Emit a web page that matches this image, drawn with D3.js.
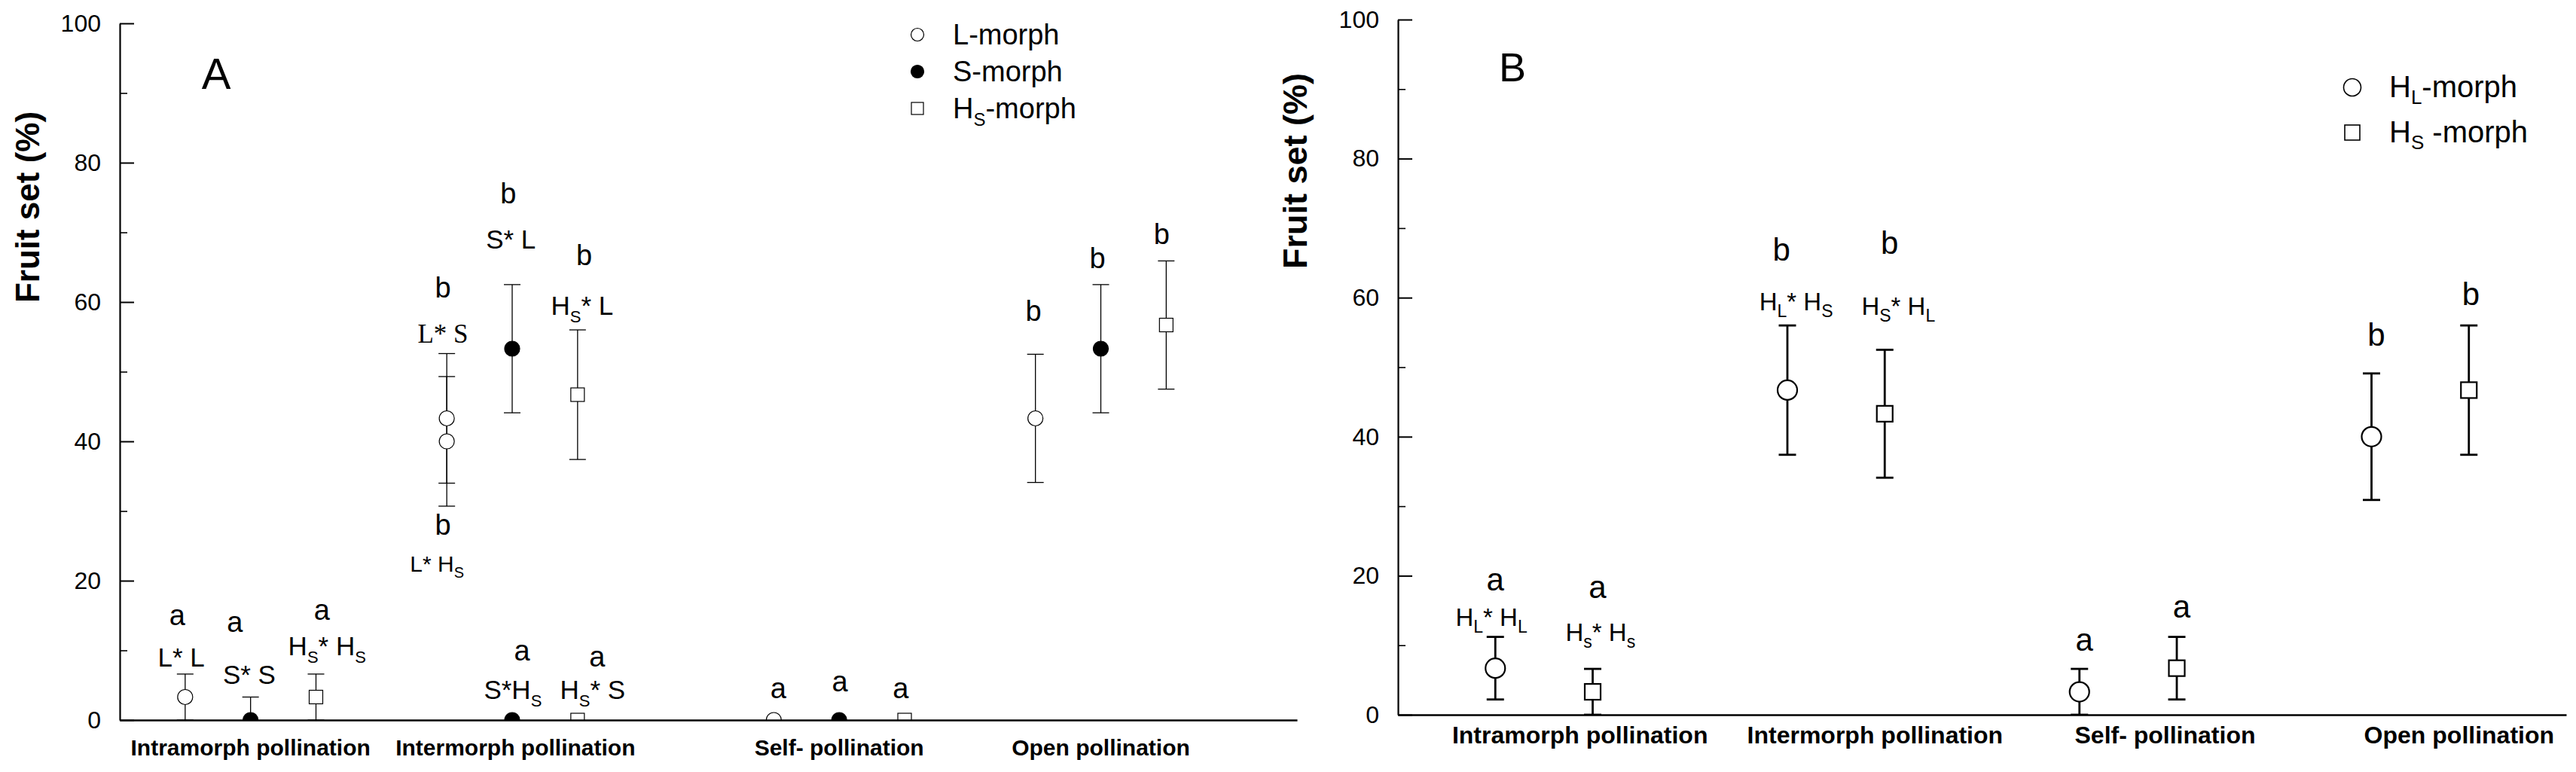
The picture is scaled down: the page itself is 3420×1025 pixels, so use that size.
<!DOCTYPE html>
<html>
<head>
<meta charset="utf-8">
<script src="https://cdn.jsdelivr.net/npm/d3@7"></script>
<style>
  html, body { margin: 0; padding: 0; background: #fff; }
  svg { display: block; font-family: 'Liberation Sans', Arial, sans-serif; }
</style>
</head>
<body>
<div id="chart"></div>
<script>
// ---- data, panel A ----
const groupsA = ['Intramorph pollination', 'Intermorph pollination',
  'Self- pollination', 'Open pollination'];
const groupPosA = [2, 6.05, 11, 15];
const morphsA = ['L', 'S', 'H'];
const morphNamesA = ['L-morph', 'S-morph', 'H_S-morph'];
const pointMorphA = ['L', 'S', 'H', 'L', 'L', 'S', 'S', 'H', 'H',
  'L', 'S', 'H', 'L', 'S', 'H'];
const pointPosA = [1, 2, 3, 5, 5, 6, 6, 7, 7, 10, 11, 12, 14, 15, 16];
const meanA = [3.3, 0, 3.3, 43.3, 40, 53.3, 0, 46.7, 0, 0, 0, 0, 43.3, 53.3, 56.7];
const seA = [3.3, 3.3, 3.3, 9.3, 9.3, 9.2, 0, 9.3, 0, 0, 0, 0, 9.2, 9.2, 9.2];
const letterA = ['a', 'a', 'a', 'b', 'b', 'b', 'a', 'b', 'a',
  'a', 'a', 'a', 'b', 'b', 'b'];
const letterXA = [0.88, 1.76, 3.09, 4.94, 4.94, 5.94, 6.15, 7.1, 7.3,
  10.07, 11.01, 11.94, 13.97, 14.95, 15.93];
const letterYA = [13.6, 12.6, 14.4, 60.6, 26.6, 74.2, 8.5, 65.3, 7.7,
  3.1, 4.1, 3.1, 57.3, 64.9, 68.3];
const crossA = ['L* L', 'S* S', 'H_S* H_S', 'L* S', 'L* H_S', 'S* L',
  'S*H_S', 'H_S* L', 'H_S* S'];
const crossXA = [0.94, 1.98, 3.17, 4.94, 4.85, 5.98, 6.01, 7.07, 7.23];
const crossYA = [7.7, 5.2, 9.3, 54.2, 21.3, 67.7, 3.0, 58.2, 3.0];

// ---- data, panel B ----
const groupsB = ['Intramorph pollination', 'Intermorph pollination',
  'Self- pollination', 'Open pollination'];
const groupPosB = [1.87, 4.9, 7.88, 10.9];
const morphsB = ['L', 'H'];
const morphNamesB = ['H_L-morph', 'H_S -morph'];
const pointMorphB = ['L', 'H', 'L', 'H', 'L', 'H', 'L', 'H'];
const pointPosB = [1, 2, 4, 5, 7, 8, 10, 11];
const meanB = [6.7, 3.3, 46.7, 43.3, 3.3, 6.7, 40, 46.7];
const seB = [4.5, 3.3, 9.3, 9.2, 3.3, 4.5, 9.1, 9.3];
const letterB = ['a', 'a', 'b', 'b', 'a', 'a', 'b', 'b'];
const letterXB = [1.0, 2.05, 3.94, 5.05, 7.05, 8.05, 10.05, 11.02];
const letterYB = [17.9, 16.8, 65.3, 66.3, 9.2, 14.0, 53.1, 58.9];
const crossB = ['H_L* H_L', 'H_s* H_s', 'H_L* H_S', 'H_S* H_L'];
const crossXB = [0.96, 2.08, 4.09, 5.14];
const crossYB = [12.8, 10.6, 58.2, 57.5];

const yTicks = [0, 20, 40, 60, 80, 100];
const yMinorTicks = [10, 30, 50, 70, 90];

// ---- painter ----
const Painter = {};

Painter.panels = () => [
  {
    id: 'A', left: 159, right: 1722, bottom: 956, top: 31, xMax: 18,
    thin: true, capHalf: 11, barWidth: 1.3, r: 10, sq: 18, markStroke: 1.2,
    letterSize: 38, crossSize: 35, subSize: 22, subShift: 10,
    groupSize: 30, groupBaseline: 1003, titleX: 36, titleY: 275, titleSize: 44,
    tag: {x: 287, y: 118, size: 58},
    legend: {x: 1218, tx: 1265, y: 46, step: 49, size: 38, sub: 24, shift: 10,
      r: 8.5, sq: 16, stroke: 1.2},
    groups: groupsA, groupPos: groupPosA, morphs: morphsA, names: morphNamesA,
    pointMorph: pointMorphA, pos: pointPosA, mean: meanA, se: seA,
    letter: letterA, letterX: letterXA, letterY: letterYA,
    cross: crossA, crossX: crossXA, crossY: crossYA
  },
  {
    id: 'B', left: 1856, right: 3407, bottom: 949, top: 26, xMax: 12,
    thin: false, capHalf: 11.5, barWidth: 2.8, r: 13, sq: 21, markStroke: 2.2,
    letterSize: 42, crossSize: 33, subSize: 23, subShift: 9,
    groupSize: 32, groupBaseline: 987, titleX: 1719, titleY: 227, titleSize: 45,
    tag: {x: 2008, y: 108, size: 54},
    legend: {x: 3123, tx: 3172, y: 116, step: 60, size: 40, sub: 26, shift: 9,
      r: 11.5, sq: 20, stroke: 1.6},
    groups: groupsB, groupPos: groupPosB, morphs: morphsB, names: morphNamesB,
    pointMorph: pointMorphB, pos: pointPosB, mean: meanB, se: seB,
    letter: letterB, letterX: letterXB, letterY: letterYB,
    cross: crossB, crossX: crossXB, crossY: crossYB
  }
];

// text with "_X" meaning subscript X
const richText = (text, str, subSize, shift) => {
  const parts = str.split(/_(.)/);
  let offset = 0;
  parts.forEach((p, i) => {
    if (!p) return;
    const isSub = i % 2 === 1;
    const target = isSub ? shift : 0;
    text.append('tspan')
        .attr('dy', target - offset)
        .attr('font-size', isSub ? subSize : null)
        .text(p);
    offset = target;
  });
};

const drawMarker = (g, morph, cx, cy, r, sq, stroke) => {
  if (morph === 'H') {
    g.append('rect')
        .attr('x', cx - sq / 2).attr('y', cy - sq / 2)
        .attr('width', sq).attr('height', sq)
        .attr('fill', '#fff').attr('stroke', '#000')
        .attr('stroke-width', stroke);
  } else {
    g.append('circle')
        .attr('cx', cx).attr('cy', cy).attr('r', r)
        .attr('fill', morph === 'S' ? '#000' : '#fff')
        .attr('stroke', '#000').attr('stroke-width', stroke);
  }
};

Painter.drawPanel = (svg, p) => {
  const x = d3.scaleLinear().domain([0, p.xMax]).range([p.left, p.right]);
  const y = d3.scaleLinear().domain([0, 100]).range([p.bottom, p.top]);

  const clipId = 'clip' + p.id;
  svg.append('clipPath').attr('id', clipId)
      .append('rect')
      .attr('x', p.left).attr('y', 0)
      .attr('width', p.right - p.left).attr('height', p.bottom);

  const plot = svg.append('g').attr('clip-path', `url(#${clipId})`);
  const rows = p.pos.map((v, i) => ({
    x: v, mean: p.mean[i], se: p.se[i], morph: p.pointMorph[i]
  }));

  // error bars
  const bars = plot.append('g')
      .attr('stroke', '#000')
      .attr('stroke-width', p.barWidth)
      .selectAll('g')
      .data(rows.filter((d) => d.se > 0))
      .join('g');
  bars.append('line')
      .attr('x1', (d) => x(d.x)).attr('x2', (d) => x(d.x))
      .attr('y1', (d) => y(d.mean - d.se)).attr('y2', (d) => y(d.mean + d.se));
  bars.append('line')
      .attr('x1', (d) => x(d.x) - p.capHalf).attr('x2', (d) => x(d.x) + p.capHalf)
      .attr('y1', (d) => y(d.mean + d.se)).attr('y2', (d) => y(d.mean + d.se));
  bars.append('line')
      .attr('x1', (d) => x(d.x) - p.capHalf).attr('x2', (d) => x(d.x) + p.capHalf)
      .attr('y1', (d) => y(d.mean - d.se)).attr('y2', (d) => y(d.mean - d.se));

  // markers
  const marks = plot.append('g');
  rows.forEach((d) => {
    drawMarker(marks, d.morph, x(d.x), y(d.mean), p.r, p.sq, p.markStroke);
  });

  // axes
  const yAxis = svg.append('g')
      .attr('transform', `translate(${p.left},0)`)
      .call(d3.axisLeft(y).tickValues(yTicks)
          .tickSizeInner(-19).tickSizeOuter(0).tickPadding(25));
  yAxis.select('.domain').attr('stroke-width', 2.2);
  yAxis.selectAll('.tick line').attr('stroke-width', 2);
  yAxis.selectAll('.tick text')
      .attr('font-size', 32)
      .attr('font-family', '\'Liberation Sans\', Arial, sans-serif')
      .attr('fill', '#000');

  const yMinor = svg.append('g')
      .attr('transform', `translate(${p.left},0)`)
      .call(d3.axisLeft(y).tickValues(yMinorTicks)
          .tickSizeInner(-10).tickSizeOuter(0).tickFormat(''));
  yMinor.select('.domain').remove();
  yMinor.selectAll('.tick line').attr('stroke-width', 1.6);

  const xAxis = svg.append('g')
      .attr('transform', `translate(0,${p.bottom})`)
      .call(d3.axisBottom(x).tickValues([]).tickSizeOuter(0));
  xAxis.select('.domain').attr('stroke-width', 2.4);

  // group labels
  svg.append('g')
      .selectAll('text')
      .data(p.groups)
      .join('text')
      .attr('x', (d, i) => x(p.groupPos[i]))
      .attr('y', p.groupBaseline)
      .attr('text-anchor', 'middle')
      .attr('font-weight', 'bold')
      .attr('font-size', p.groupSize)
      .text((d) => d);

  // y title
  svg.append('text')
      .attr('transform', `translate(${p.titleX},${p.titleY}) rotate(-90)`)
      .attr('text-anchor', 'middle')
      .attr('dominant-baseline', 'central')
      .attr('font-weight', 'bold')
      .attr('font-size', p.titleSize)
      .text('Fruit set (%)');

  // panel tag
  svg.append('text')
      .attr('x', p.tag.x).attr('y', p.tag.y)
      .attr('text-anchor', 'middle')
      .attr('font-size', p.tag.size)
      .text(p.id);

  // significance letters
  svg.append('g')
      .selectAll('text')
      .data(p.letter)
      .join('text')
      .attr('x', (d, i) => x(p.letterX[i]))
      .attr('y', (d, i) => y(p.letterY[i]))
      .attr('text-anchor', 'middle')
      .attr('font-size', p.letterSize)
      .text((d) => d);

  // cross labels
  p.cross.forEach((c, i) => {
    const serif = c === 'L* S';
    const small = c === 'L* H_S';
    const t = svg.append('text')
        .attr('x', x(p.crossX[i]))
        .attr('y', y(p.crossY[i]))
        .attr('text-anchor', 'middle')
        .attr('font-size', small ? 30 : p.crossSize)
        .attr('font-family', serif ?
          '\'Liberation Serif\', \'Times New Roman\', serif' : null);
    richText(t, c, small ? 20 : p.subSize, small ? 8 : p.subShift);
  });

  // legend
  const lg = p.legend;
  const legend = svg.append('g');
  p.morphs.forEach((m, i) => {
    const cy = lg.y + i * lg.step;
    drawMarker(legend, m, lg.x, cy, lg.r, lg.sq, lg.stroke);
    const t = legend.append('text')
        .attr('x', lg.tx)
        .attr('y', cy + 13)
        .attr('font-size', lg.size);
    richText(t, p.names[i], lg.sub, lg.shift);
  });
};

Painter.painting = (container) => {
  const svg = d3.select(container)
      .append('svg')
      .attr('width', 3420)
      .attr('height', 1025)
      .attr('viewBox', [0, 0, 3420, 1025]);
  Painter.panels().forEach((p) => Painter.drawPanel(svg, p));
};

Painter.painting(document.getElementById('chart'));
</script>
</body>
</html>
